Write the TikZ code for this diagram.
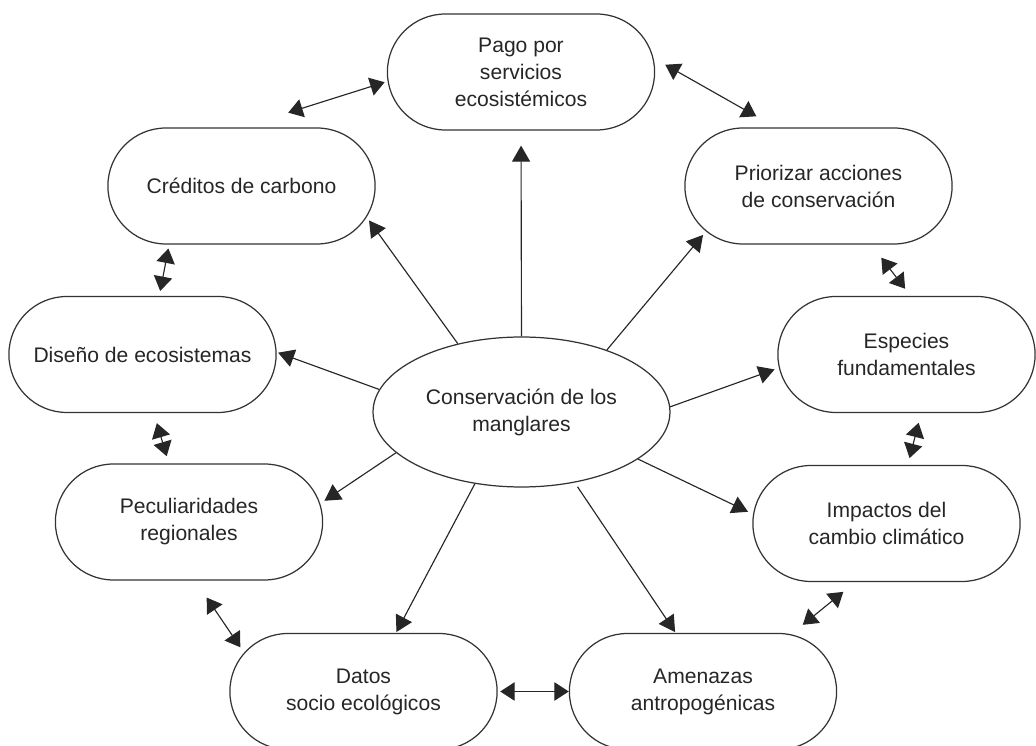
\documentclass[tikz,border=0pt]{standalone}
\usepackage{fontspec}
\setmainfont{Liberation Sans}
\usetikzlibrary{shapes.misc,shapes.geometric,arrows.meta}
\tikzset{
	blase/.style={draw=black!80, line width=0.7pt, rounded rectangle, minimum width=5.58cm, minimum height=2.32cm, align=center, text=black!85, font=\fontsize{12}{15.4}\selectfont},
	kern/.style={draw=black!80, line width=0.7pt, ellipse, minimum width=5.94cm, minimum height=3cm, align=center, text=black!85, font=\fontsize{12}{15.4}\selectfont},
	pfeil/.style={-{Triangle[length=0.32cm,width=0.36cm]}, line width=0.65pt, draw=black!85},
	doppel/.style={{Triangle[length=0.29cm,width=0.37cm]}-{Triangle[length=0.29cm,width=0.37cm]}, line width=0.65pt, draw=black!85}
}
\begin{document}
\begin{tikzpicture}[x=0.02cm, y=-0.02cm]
		\useasboundingbox (0,0) rectangle (1036,746);
		%mitte
		\node[kern] (cons) at (521.5,412) {Conservación de los\\manglares};
		%oben
		\node[blase] (pago) at (521,72) {Pago por\\servicios\\ecosistémicos};
		\node[blase] (cred) at (241.5,186) {Créditos de carbono};
		\node[blase] (prio) at (818.5,186) {Priorizar acciones\\de conservación};
		%seiten
		\node[blase] (dis) at (142.5,354.5) {Diseño de ecosistemas};
		\node[blase, minimum width=5.38cm] (esp) at (906.5,354.5) {Especies\\fundamentales};
		\node[blase] (pec) at (189,522) {Peculiaridades\\regionales};
		\node[blase] (imp) at (886.5,523.5) {Impactos del\\cambio climático};
		%unten
		\node[blase] (datos) at (363.5,691.5) {Datos\\socio ecológicos};
		\node[blase] (amen) at (703,691.5) {Amenazas\\antropogénicas};
		%pfeile von der mitte
		\draw[pfeil, shorten >=0.3cm] (cons.90) -- (pago.-90);
		\draw[pfeil, shorten >=0.08cm] (cons.133) -- (cred.-14);
		\draw[pfeil, shorten >=0.09cm] (cons.36) -- (prio.202);
		\draw[pfeil, shorten >=0.03cm] (cons.171) -- (dis.1);
		\draw[pfeil, shorten >=0.09cm] (cons.2) -- (esp.186);
		\draw[pfeil, shorten >=0.1cm] (cons.198) -- (pec.8);
		\draw[pfeil, shorten >=0.11cm] (cons.-22) -- (imp.176);
		\draw[pfeil, shorten >=0.02cm] (cons.-123) -- (datos.61);
		\draw[pfeil, shorten <=0.1cm, shorten >=0.02cm] (cons.-53) -- (amen.115);
		%ring
		\draw[doppel, shorten <=0.98cm, shorten >=0.06cm] (cred.north) -- (pago.184);
		\draw[doppel, shorten <=0.27cm, shorten >=0.45cm] (pago.6) -- (prio.126);
		\draw[doppel, shorten <=0.08cm, shorten >=0.1cm] (cred.219) -- (dis.74);
		\draw[doppel, shorten <=0.33cm, shorten >=0.18cm] (prio.-48) -- (esp.86);
		\draw[doppel, shorten <=0.21cm, shorten >=0.15cm] (dis.-79) -- (pec.109);
		\draw[doppel, shorten <=0.2cm, shorten >=0.14cm] (esp.-76) -- (imp.70);
		\draw[doppel, shorten <=0.41cm, shorten >=0.13cm] (pec.-84) -- (datos.162);
		\draw[doppel, shorten <=0.31cm, shorten >=0.3cm] (imp.242) -- (amen.33);
		\draw[doppel, shorten <=0.05cm] (datos.east) -- (amen.west);
	\end{tikzpicture}
\end{document}
